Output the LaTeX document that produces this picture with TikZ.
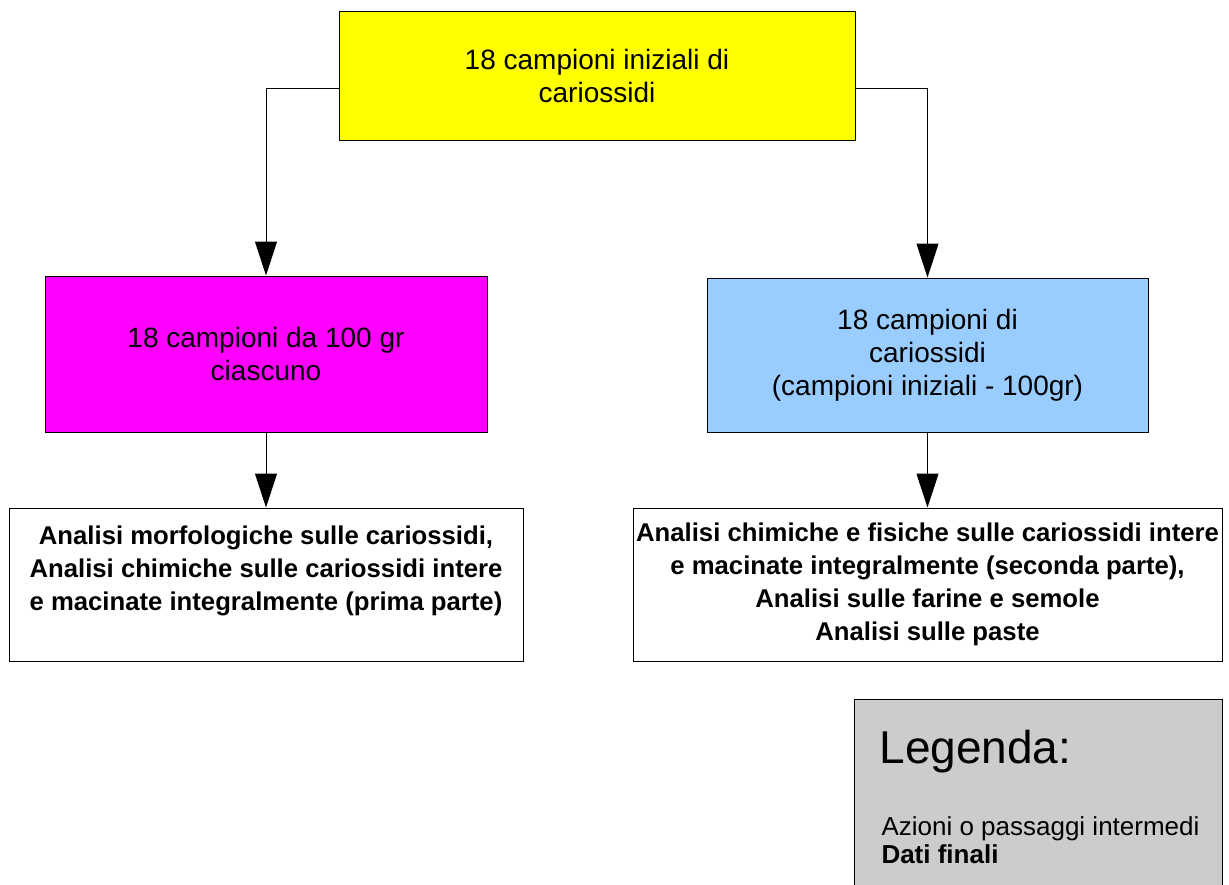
\documentclass[tikz,border=0pt]{standalone}
\usepackage{fontspec}
\setmainfont{Liberation Sans}
\usetikzlibrary{arrows.meta}
\definecolor{giallo}{HTML}{FFFF00}
\definecolor{magenta}{HTML}{FF00FF}
\definecolor{azzurro}{HTML}{99CCFF}
\definecolor{grigio}{HTML}{CCCCCC}

\begin{document}
\begin{tikzpicture}[x=0.5pt,y=-0.5pt,line width=0.5pt,>={Triangle[width=11pt,length=17pt]}]
      \tikzstyle{every node}=[align=center,inner sep=0pt];
      \tikzstyle{passo}=[draw,font=\fontsize{14}{16.5}\selectfont];
      \tikzstyle{finale}=[draw,fill=white,font=\bfseries\fontsize{12.85}{16.5}\selectfont];
        \useasboundingbox (0,0) rectangle (1229,884);

        \node[passo,fill=giallo,minimum width=258pt,minimum height=64.5pt] (iniz) at (597,75.5) {18 campioni iniziali di\\cariossidi};
        \node[passo,fill=magenta,minimum width=221pt,minimum height=78pt] (cento) at (266,354) {18 campioni da 100 gr\\ciascuno};
        \node[passo,fill=azzurro,minimum width=220.5pt,minimum height=77pt] (resto) at (927.5,355) {18 campioni di\\cariossidi\\(campioni iniziali - 100gr)};
        \node[finale,minimum width=257pt,minimum height=76.5pt] (analisi1) at (266,584.5) {Analisi morfologiche sulle cariossidi,\\Analisi chimiche sulle cariossidi intere\\e macinate integralmente (prima parte)\\ \mbox{}};
        \node[finale,minimum width=294.5pt,minimum height=76.5pt] (analisi2) at (927.5,584.5) {Analisi chimiche e fisiche sulle cariossidi intere\\e macinate integralmente (seconda parte),\\Analisi sulle farine e semole\\Analisi sulle paste};

        % legenda
        \node[draw,fill=grigio,anchor=north west,minimum width=184pt,minimum height=96pt] (legenda) at (854,699) {};
        \node[anchor=west,font=\fontsize{23}{26}\selectfont] (legtitolo) at (879,752) {Legenda:};
        \node[anchor=west,align=left,font=\fontsize{13}{14}\selectfont] (legtesto) at (881,840) {Azioni o passaggi intermedi\\\textbf{Dati finali}};

        \draw[->] ([yshift=-6.25pt]iniz.west) -| (cento.north);
        \draw[->] ([yshift=-6.25pt]iniz.east) -| (resto.north);
        \draw[->] (cento) -- (analisi1);
        \draw[->] (resto) -- (analisi2);
    \end{tikzpicture}
\end{document}
